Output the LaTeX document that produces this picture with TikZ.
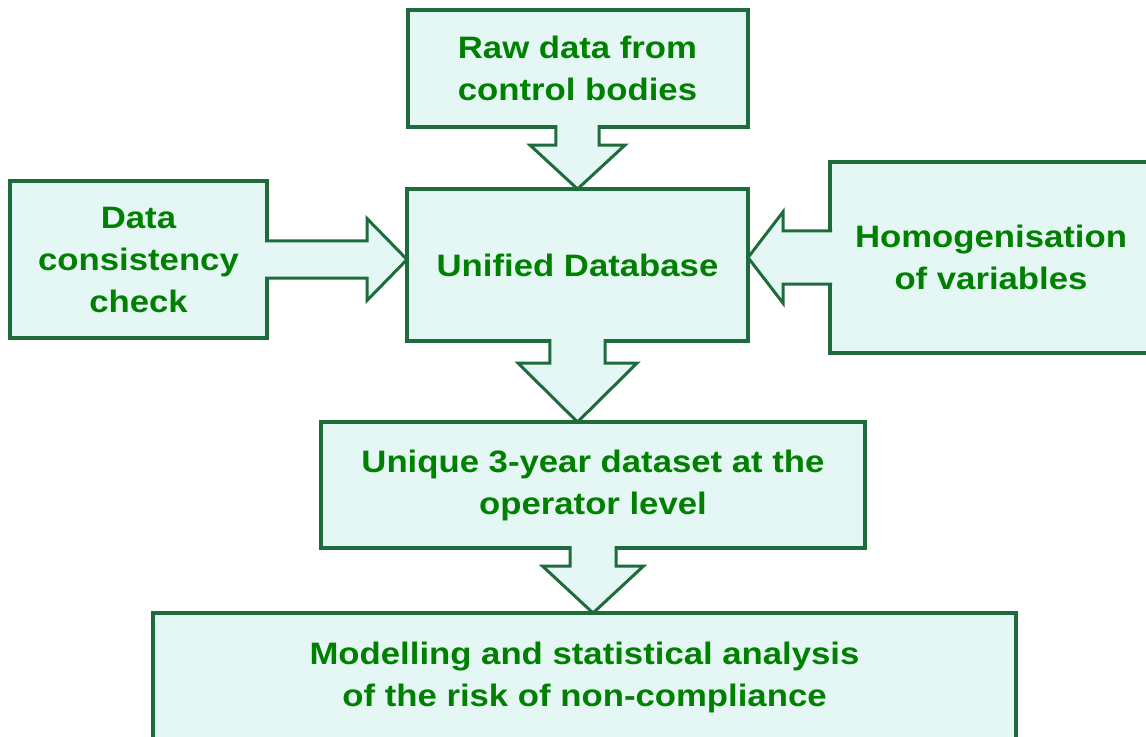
\documentclass[tikz,border=0pt]{standalone}
\usepackage{fontspec}
\newfontfamily\flowfont{Liberation Sans}[FakeStretch=1.12]
\usepackage{tikz}
\usetikzlibrary{positioning,calc}

\definecolor{boxfill}{RGB}{228,247,244}
\definecolor{boxline}{RGB}{30,108,60}
\definecolor{boxtext}{RGB}{0,128,0}

% fat block arrow: back point, tip, shaft half width, head half width, head length
\newcommand{\blockflow}[5]{%
  \coordinate (hb) at ($(#2)!#5!(#1)$);
  \fill[boxfill] ($(#1)!#3!90:(#2)$) -- ($(hb)!#3!90:(#2)$) -- ($(hb)!#4!90:(#2)$) -- (#2)
    -- ($(hb)!#4!-90:(#2)$) -- ($(hb)!#3!-90:(#2)$) -- ($(#1)!#3!-90:(#2)$) -- cycle;
  \draw[flowline] ($(#1)!#3!90:(#2)$) -- ($(hb)!#3!90:(#2)$) -- ($(hb)!#4!90:(#2)$) -- (#2)
    -- ($(hb)!#4!-90:(#2)$) -- ($(hb)!#3!-90:(#2)$) -- ($(#1)!#3!-90:(#2)$);
}

\begin{document}
\begin{tikzpicture}[
  x=0.5pt, y=-0.5pt,
  stage/.style={draw=boxline, fill=boxfill, line width=2pt, inner sep=0pt, outer sep=0pt,
    align=center, text=boxtext, font=\flowfont\bfseries\fontsize{15.5}{21}\selectfont},
  flowline/.style={draw=boxline, line width=1.5pt, line join=miter}
]
  \useasboundingbox (0,0) rectangle (1146,736);

  \node[stage, minimum width=170.5pt, minimum height=76pt] (db) at (577.5,265) {Unified Database};
  \node[stage, minimum width=170pt, minimum height=58.5pt, above=31pt of db] (raw) {Raw data from\\control bodies};
  \node[stage, minimum width=128.5pt, minimum height=78.5pt, left=70pt of db, yshift=2.75pt] (check) {Data\\consistency\\check};
  \node[stage, minimum width=161pt, minimum height=95.5pt, right=41pt of db, yshift=3.75pt] (homog) {Homogenisation\\of variables};
  \node[stage, minimum width=272pt, minimum height=63pt, below=40.5pt of db, xshift=7.75pt] (uniq) {Unique 3-year dataset at the\\operator level};
  \node[stage, minimum width=431.5pt, minimum height=64pt, below=32.5pt of uniq, xshift=-4.25pt] (model) {Modelling and statistical analysis\\of the risk of non-compliance};

  % back ends sit just inside the source box, tips on the target border
  \coordinate (rawb) at ([yshift=1pt]raw.south);
  \coordinate (rawt) at (raw.south |- db.north);
  \coordinate (chkb) at ([xshift=-1pt]check.east);
  \coordinate (chkt) at (db.west |- check.east);
  \coordinate (homb) at ([xshift=1pt]homog.west);
  \coordinate (homt) at (db.east |- homog.west);
  \coordinate (dbb) at ([yshift=1pt]db.south);
  \coordinate (dbt) at (db.south |- uniq.north);
  \coordinate (unib) at ([yshift=1pt]uniq.south);
  \coordinate (unit) at (uniq.south |- model.north);

  \blockflow{rawb}{rawt}{10.8pt}{23.8pt}{22pt}
  \blockflow{chkb}{chkt}{9.3pt}{20.5pt}{20pt}
  \blockflow{homb}{homt}{13.3pt}{22.8pt}{17.5pt}
  \blockflow{dbb}{dbt}{13.8pt}{29.8pt}{29.5pt}
  \blockflow{unib}{unit}{11.5pt}{25.3pt}{23.5pt}
\end{tikzpicture}
\end{document}
